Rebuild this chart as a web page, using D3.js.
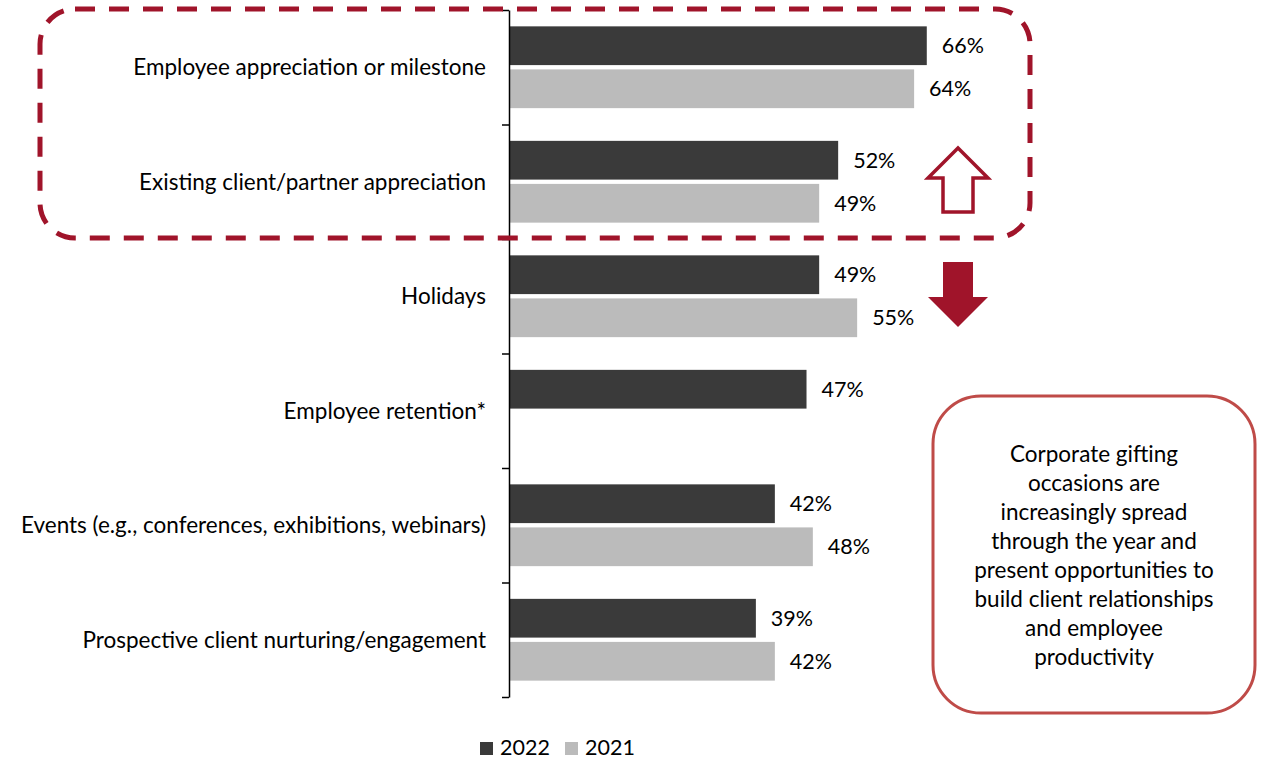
<!DOCTYPE html>
<html><head><meta charset="utf-8">
<script src="https://cdn.jsdelivr.net/npm/d3@7"></script>
<style>body{margin:0;background:#fff;} svg{display:block;font-family:Lato, "Open Sans", sans-serif;}</style>
</head><body>
<svg id="chart" width="1262" height="765"></svg>
<script>
const categories = ["Employee appreciation or milestone","Existing client/partner appreciation","Holidays","Employee retention*","Events (e.g., conferences, exhibitions, webinars)","Prospective client nurturing/engagement"];
const values2022 = [66,52,49,47,42,39];
const values2021 = [64,49,55,null,48,42];
const seriesNames = ["2022","2021"];
const noteLines = ["Corporate gifting","occasions are","increasingly spread","through the year and","present opportunities to","build client relationships","and employee","productivity"];

const svg = d3.select("#chart");
const dark = "#3a3a3a", light = "#bbbbbb", red = "#a0142a", boxRed = "#bf4b48";
const fsLabel = 22.5, fsNum = 21.5;

const y = d3.scaleBand().domain(categories).range([10, 697]).paddingInner(0).paddingOuter(0);
const yTicks = d3.scaleLinear().domain([0, categories.length]).range([10, 697]);
const x = d3.scaleLinear().domain([0, 100]).range([509, 509 + 633]);
const sub = d3.scaleBand().domain(seriesNames).range([0, y.bandwidth()]).paddingInner(0.1).paddingOuter(0.38);

// bars
const data = [];
categories.forEach((c, i) => {
  data.push({cat: c, s: "2022", v: values2022[i]});
  if (values2021[i] != null) data.push({cat: c, s: "2021", v: values2021[i]});
});
svg.append("g").selectAll("rect").data(data).join("rect")
  .attr("x", x(0)).attr("y", d => y(d.cat) + sub(d.s))
  .attr("width", d => x(d.v) - x(0)).attr("height", sub.bandwidth())
  .attr("fill", d => d.s === "2022" ? dark : light);

svg.append("g").selectAll("text").data(data).join("text")
  .attr("x", d => x(d.v) + 15).attr("y", d => y(d.cat) + sub(d.s) + sub.bandwidth()/2)
  .attr("dy", "0.35em").attr("font-size", fsNum).attr("fill", "#000")
  .text(d => d.v + "%");

// axis
const ax = svg.append("g").attr("transform", "translate(509,0)")
  .call(d3.axisLeft(yTicks).tickValues(d3.range(categories.length + 1)).tickFormat("").tickSize(7).tickSizeOuter(0));
ax.select(".domain").attr("stroke", "#000").attr("stroke-width", 1.5);
ax.selectAll(".tick line").attr("stroke", "#000").attr("stroke-width", 1.5);

// category labels
svg.append("g").selectAll("text").data(categories).join("text")
  .attr("x", 486).attr("y", d => y(d) + y.bandwidth()/2)
  .attr("dy", "0.35em").attr("text-anchor", "end").attr("font-size", fsLabel).attr("fill", "#000")
  .text(d => d);

// dashed highlight box
svg.append("rect").attr("x", 40).attr("y", 9).attr("width", 990).attr("height", 229).attr("rx", 35)
  .attr("fill", "none").attr("stroke", red).attr("stroke-width", 5).attr("stroke-dasharray", "20,14");

// up arrow (outline)
const up = [[958,148],[988,178],[973,178],[973,212],[943,212],[943,178],[928,178]];
svg.append("path").attr("d", d3.line()(up) + "Z").attr("fill", "#fff").attr("stroke", red).attr("stroke-width", 3.5).attr("stroke-linejoin", "miter");
// down arrow (filled)
const down = [[943,262],[973,262],[973,297],[988,297],[958,327],[928,297],[943,297]];
svg.append("path").attr("d", d3.line()(down) + "Z").attr("fill", red);

// note box
svg.append("rect").attr("x", 933).attr("y", 396).attr("width", 322).attr("height", 317).attr("rx", 48)
  .attr("fill", "#fff").attr("stroke", boxRed).attr("stroke-width", 3);
svg.append("g").selectAll("text").data(noteLines).join("text")
  .attr("x", 1094).attr("y", (d, i) => 462 + i * 29)
  .attr("text-anchor", "middle").attr("font-size", fsLabel).attr("fill", "#000")
  .text(d => d);

// legend
const lg = svg.append("g");
const legX = [480, 565];
seriesNames.forEach((s, i) => {
  lg.append("rect").attr("x", legX[i]).attr("y", 742).attr("width", 13).attr("height", 13).attr("fill", i === 0 ? dark : light);
  lg.append("text").attr("x", legX[i] + 20).attr("y", 755).attr("font-size", fsNum).attr("fill", "#000").text(s);
});
</script>
</body></html>
